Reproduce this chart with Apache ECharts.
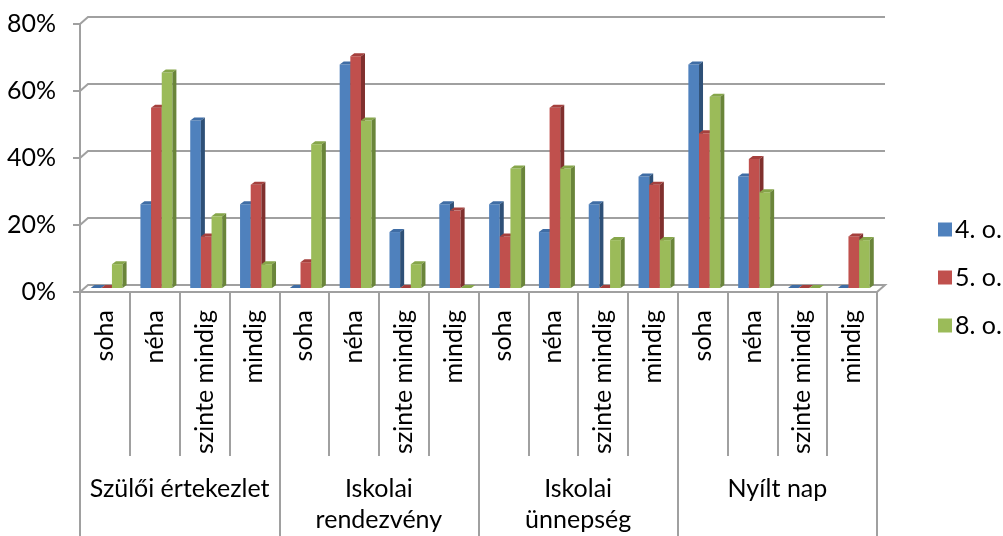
<!DOCTYPE html>
<html>
<head>
<meta charset="utf-8">
<script src="https://cdn.jsdelivr.net/npm/echarts@6/dist/echarts.min.js"></script>
<style>
html,body{margin:0;padding:0;background:#fff;}
#main{width:1003px;height:536px;}
</style>
</head>
<body>
<div id="main"></div>
<script>
const groups = ['Szülői értekezlet', 'Iskolai\nrendezvény', 'Iskolai\nünnepség', 'Nyílt nap'];
const answers = ['soha', 'néha', 'szinte mindig', 'mindig'];
const seriesNames = ['4. o.', '5. o.', '8. o.'];
const grade4 = [0, 25, 50, 25, 0, 66.7, 16.7, 25, 25, 16.7, 25, 33.3, 66.7, 33.3, 0, 0];
const grade5 = [0, 53.8, 15.4, 30.8, 7.7, 69.2, 0, 23.1, 15.4, 53.8, 0, 30.8, 46.2, 38.5, 0, 15.4];
const grade8 = [7.1, 64.3, 21.4, 7.1, 42.9, 50, 7.1, 0, 35.7, 35.7, 14.3, 14.3, 57.1, 28.6, 0, 14.3];
const yTicks = [0, 20, 40, 60, 80];

const categories = [];
groups.forEach(() => answers.forEach(a => categories.push(a)));
const seriesValues = [grade4, grade5, grade8];

const palette = [
  {front: '#4F81BD', top: '#3F6DA5', side: '#2E5077'},
  {front: '#C0504D', top: '#A5403D', side: '#80302E'},
  {front: '#9BBB59', top: '#86A64A', side: '#6A853A'}
];
const FONT = 'Lato';
const FS = 25;
const WALL_DX = 8, WALL_DY = 7;

function barRenderer(s) {
  const c = palette[s];
  return function (params, api) {
    const i = api.value(0), v = api.value(1);
    const base = api.coord([i, 0]);
    const top = api.coord([i, v]);
    const band = api.size([1, 0])[0];
    const bw = band * 0.214;
    const x = base[0] - 1.5 * bw + band * 0.034 + s * bw;
    const lift = 4;
    const yb = base[1] - lift, yt = top[1] - lift;
    const dx = 4, dy = 3;
    return {
      type: 'group',
      children: [
        {type: 'rect', shape: {x: x, y: yt, width: bw, height: Math.max(0, yb - yt)}, style: {fill: c.front}},
        {type: 'polygon', shape: {points: [[x, yt], [x + dx, yt - dy], [x + bw + dx, yt - dy], [x + bw, yt]]}, style: {fill: c.top}},
        {type: 'polygon', shape: {points: [[x + bw, yt], [x + bw + dx, yt - dy], [x + bw + dx, yb - dy], [x + bw, yb]]}, style: {fill: c.side}}
      ]
    };
  };
}

function gridRenderer(params, api) {
  const cs = params.coordSys;
  const v = api.value(1);
  const y = api.coord([0, v])[1];
  const xl = cs.x, xr = cs.x + cs.width;
  const pts = v === 0
    ? [[xl, y], [xl + WALL_DX, y - WALL_DY], [xr + WALL_DX, y - WALL_DY], [xr, y]]
    : [[xl, y], [xl + WALL_DX, y - WALL_DY], [xr + WALL_DX, y - WALL_DY]];
  return {
    type: 'polyline',
    shape: {points: pts},
    style: {stroke: '#a0a0a0', lineWidth: 2, fill: null}
  };
}

const series = [{
  type: 'custom',
  name: 'grid3d',
  renderItem: gridRenderer,
  data: yTicks.map(t => [0, t]),
  clip: false,
  silent: true,
  z: 1,
  xAxisIndex: 0,
  yAxisIndex: 0
}];
seriesValues.forEach((vals, s) => {
  series.push({
    type: 'custom',
    name: seriesNames[s],
    renderItem: barRenderer(s),
    data: vals.map((v, i) => [i, v]),
    itemStyle: {color: palette[s].front},
    clip: false,
    z: 3,
    xAxisIndex: 0,
    yAxisIndex: 0
  });
});

const chart = echarts.init(document.getElementById('main'), null, {renderer: 'canvas'});
chart.setOption({
  animation: false,
  backgroundColor: '#ffffff',
  textStyle: {fontFamily: FONT},
  grid: {left: 80, right: 126, top: 24, bottom: 244, containLabel: false, outerBoundsMode: 'none'},
  legend: {
    orient: 'vertical',
    left: 933,
    top: 212,
    itemWidth: 14,
    itemHeight: 14,
    itemGap: 23,
    icon: 'rect',
    data: seriesNames,
    textStyle: {fontFamily: FONT, fontSize: FS, color: '#000', padding: [0, 0, 0, -2]}
  },
  xAxis: [{
    type: 'category',
    data: categories,
    position: 'bottom',
    axisLine: {show: true, lineStyle: {color: '#a0a0a0', width: 2}},
    axisTick: {show: true, interval: 0, length: 164, lineStyle: {color: '#a0a0a0', width: 2}},
    axisLabel: {interval: 0, rotate: 90, margin: 18, fontFamily: FONT, fontSize: FS, color: '#000'},
    splitLine: {show: false}
  }, {
    type: 'category',
    data: groups,
    position: 'bottom',
    axisLine: {show: false},
    axisTick: {show: true, interval: 0, length: 260, lineStyle: {color: '#a0a0a0', width: 2}},
    axisLabel: {interval: 0, margin: 181, fontFamily: FONT, fontSize: FS, color: '#000', lineHeight: 31, verticalAlign: 'top'},
    splitLine: {show: false}
  }],
  yAxis: {
    type: 'value',
    min: 0,
    max: 80,
    interval: 20,
    axisLine: {show: true, lineStyle: {color: '#a0a0a0', width: 2}},
    axisTick: {show: true, length: 7, lineStyle: {color: '#a0a0a0', width: 2}},
    axisLabel: {formatter: '{value}%', margin: 24, fontFamily: FONT, fontSize: FS, color: '#000'},
    splitLine: {show: false}
  },
  series: series
});
</script>
</body>
</html>
